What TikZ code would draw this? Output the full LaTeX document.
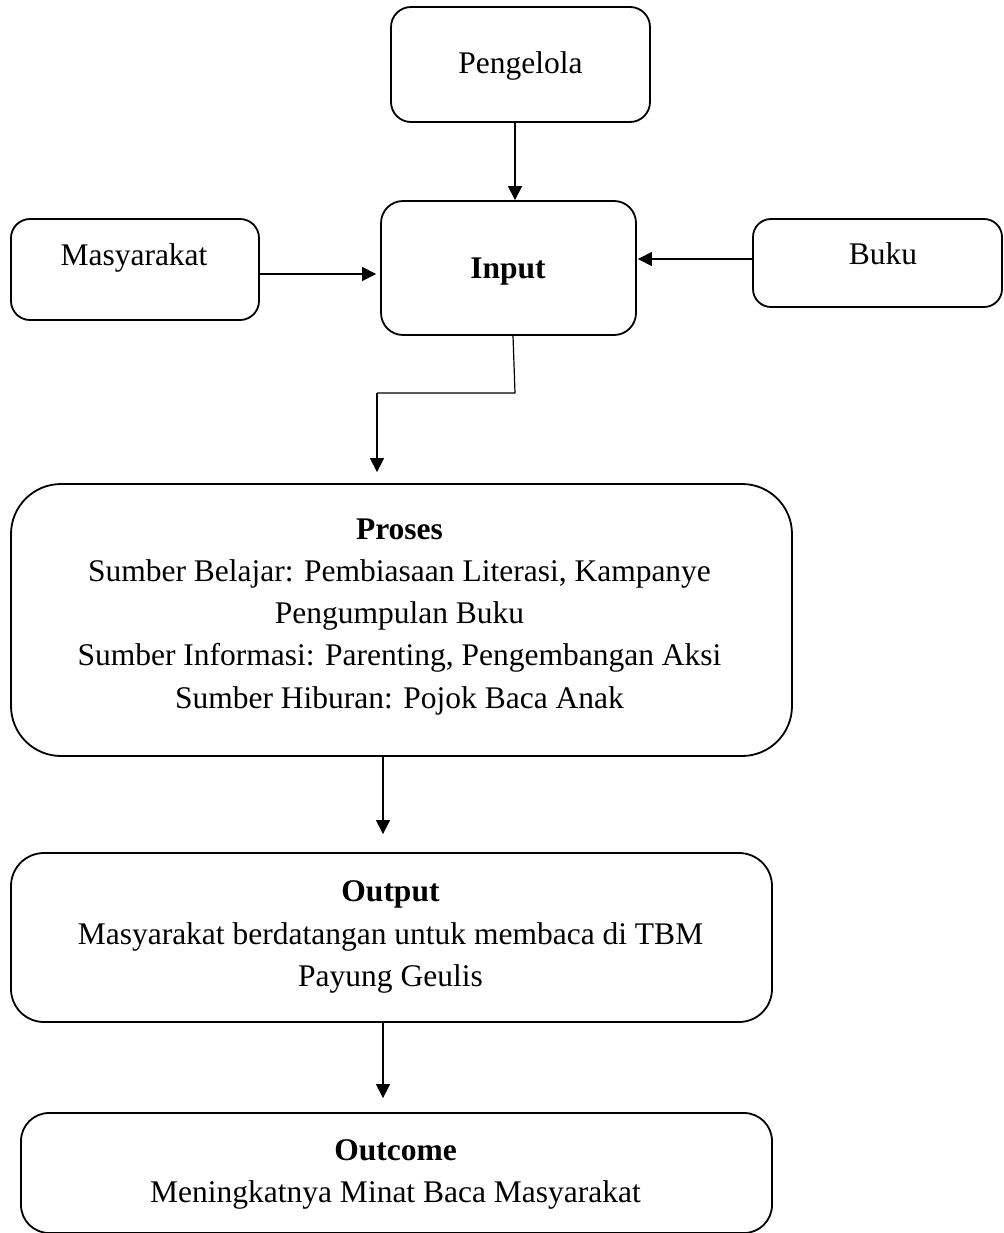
\documentclass[tikz,border=0pt]{standalone}
\usepackage{fontspec}
\setmainfont{Liberation Serif}
\usetikzlibrary{arrows.meta,calc}
\begin{document}
\begin{tikzpicture}[x=1pt,y=-1pt,
  box/.style={draw=black,line width=1.8pt,rectangle,inner sep=0pt},
  txt/.style={inner sep=0pt,align=center,font=\fontsize{31.5}{42.2}\selectfont},
  arr/.style={draw=black,line width=1.2pt,-{Triangle[length=14pt,width=14pt]}},
  ln/.style={draw=black,line width=1.2pt}]
\useasboundingbox (0,0) rectangle (1003,1233);
\begin{scope}
\clip (0,0) rectangle (1003,1233);
\node[box,rounded corners=20pt,minimum width=259pt,minimum height=115pt] (peng) at (520.5,64.5) {};
\node[box,rounded corners=22pt,minimum width=255pt,minimum height=134pt] (input) at (508.5,268) {};
\node[box,rounded corners=19pt,minimum width=248pt,minimum height=101pt] (masy) at (135,269.5) {};
\node[box,rounded corners=18pt,minimum width=249pt,minimum height=88pt] (buku) at (877.5,263) {};
\node[box,rounded corners=50pt,minimum width=781pt,minimum height=272pt] (proses) at (401.5,620) {};
\node[box,rounded corners=33pt,minimum width=761pt,minimum height=169pt] (output) at (391.5,937.5) {};
\node[box,rounded corners=28pt,minimum width=751pt,minimum height=120pt] (outcome) at (396.5,1173) {};
\end{scope}

\node[txt] (tpeng) at (520.5,66) {Pengelola};
\node[txt] (tmasy) at (134,258) {Masyarakat};
\node[txt] (tinput) at (508,271.3) {\textbf{Input}};
\node[txt] (tbuku) at (883,253.7) {Buku};
\node[txt] (tproses) at (399.5,616.8) {\textbf{Proses}\\Sumber Belajar: Pembiasaan Literasi, Kampanye\\Pengumpulan Buku\\Sumber Informasi: Parenting, Pengembangan Aksi\\Sumber Hiburan: Pojok Baca Anak};
\node[txt] (toutput) at (390.5,937) {\textbf{Output}\\Masyarakat berdatangan untuk membaca di TBM\\Payung Geulis};
\node[txt] (toutcome) at (395.5,1174.3) {\textbf{Outcome}\\Meningkatnya Minat Baca Masyarakat};

\draw[arr] ([xshift=-5.5pt]peng.south) -- ([xshift=-5.5pt]peng.south |- input.north);
\draw[arr,shorten >=4pt] ([yshift=-4.5pt]masy.east) -- ([yshift=-4.5pt]masy.east -| input.west);
\draw[arr,shorten >=1pt] ([yshift=4pt]buku.west) -- ([yshift=4pt]buku.west -| input.east);
\coordinate (e1) at (515,393);
\coordinate (e2) at (377,393);
\draw[ln] ([xshift=4.5pt]input.south) -- (e1) -- (e2);
\draw[arr,shorten >=11pt] (e2) -- (e2 |- proses.north);
\draw[arr,shorten >=18pt] ([xshift=-18.5pt]proses.south) -- ([xshift=-18.5pt]proses.south |- output.north);
\draw[arr,shorten >=14pt] ([xshift=-8.5pt]output.south) -- ([xshift=-8.5pt]output.south |- outcome.north);
\end{tikzpicture}
\end{document}
